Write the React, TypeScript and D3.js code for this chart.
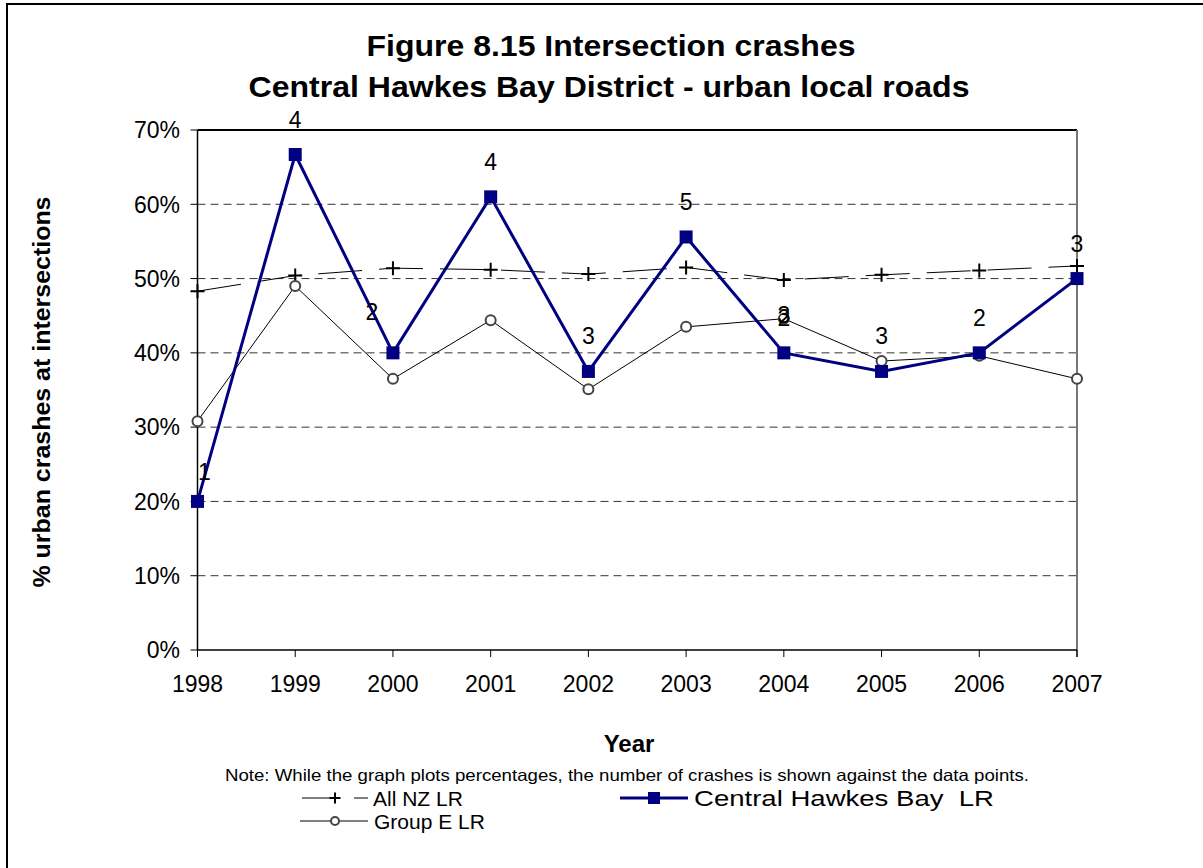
import React from "react";
import * as d3 from "d3";

// Chart data
const years = ["1998", "1999", "2000", "2001", "2002", "2003", "2004", "2005", "2006", "2007"];
const allNZ = [48.3, 50.4, 51.4, 51.2, 50.6, 51.5, 49.8, 50.5, 51.1, 51.7];
const centralHB = [20, 66.7, 40, 61, 37.5, 55.6, 40, 37.5, 40, 50];
const groupE = [30.8, 49.0, 36.5, 44.4, 35.1, 43.5, 44.6, 38.9, 39.6, 36.5];
const crashCounts = ["1", "4", "2", "4", "3", "5", "2", "3", "2", "3"];
const yTicks = [0, 10, 20, 30, 40, 50, 60, 70];

const FONT = "Liberation Sans, Arial, sans-serif";

// a few labels were nudged by hand in the original
const labelNudge: Record<number, [number, number]> = {
  0: [7, 6],
  2: [-21, -6],
};

const App = () => {
  const width = 1203;
  const height = 868;
  const left = 197.5;
  const right = 1077;
  const top = 130;
  const bottom = 650;

  const x = d3.scalePoint<string>().domain(years).range([left, right]);
  const y = d3.scaleLinear().domain([0, 70]).range([bottom, top]);

  const line = d3
    .line<number>()
    .x((_, i) => x(years[i]) as number)
    .y((d) => y(d));

  const plus = (cx: number, cy: number, s = 7) =>
    `M${cx - s},${cy}H${cx + s}M${cx},${cy - s}V${cy + s}`;

  return (
    <div style={{ position: "absolute", left: 0, top: 0 }}>
      <svg width={width} height={height} style={{ display: "block", background: "#fff" }} fontFamily={FONT}>
        {/* outer frame */}
        <rect x={7} y={4} width={width + 10} height={height + 10} fill="none" stroke="#000" strokeWidth={2} />

        {/* title */}
        <text x={611} y={56} textAnchor="middle" fontSize={30} fontWeight="bold" textLength={489} lengthAdjust="spacingAndGlyphs">
          Figure 8.15 Intersection crashes
        </text>
        <text x={609} y={97} textAnchor="middle" fontSize={30} fontWeight="bold" textLength={721} lengthAdjust="spacingAndGlyphs">
          Central Hawkes Bay District - urban local roads
        </text>

        {/* gridlines */}
        {yTicks
          .filter((t) => t > 0 && t < 70)
          .map((t) => (
            <line key={t} x1={left} x2={right} y1={y(t)} y2={y(t)} stroke="#333" strokeWidth={1} strokeDasharray="8 5" />
          ))}

        {/* plot frame */}
        <line x1={left} x2={right} y1={top} y2={top} stroke="#000" strokeWidth={2} />
        <line x1={right} x2={right} y1={top} y2={bottom + 7} stroke="#777" strokeWidth={2} />
        <line x1={left} x2={left} y1={top} y2={bottom} stroke="#000" strokeWidth={1.5} />
        <line x1={left} x2={right} y1={bottom} y2={bottom} stroke="#000" strokeWidth={1.5} />

        {/* y ticks */}
        {yTicks.map((t) => (
          <g key={t}>
            <line x1={left - 7} x2={left} y1={y(t)} y2={y(t)} stroke="#000" strokeWidth={1} />
            <text x={180} y={y(t)} dy="0.36em" textAnchor="end" fontSize={23}>
              {t}%
            </text>
          </g>
        ))}

        {/* x ticks */}
        {years.map((yr) => (
          <g key={yr}>
            <line x1={x(yr)} x2={x(yr)} y1={bottom} y2={bottom + 7} stroke="#000" strokeWidth={1} />
            <text x={x(yr)} y={692} textAnchor="middle" fontSize={23}>
              {yr}
            </text>
          </g>
        ))}

        {/* axis titles */}
        <text x={629} y={752} textAnchor="middle" fontSize={24} fontWeight="bold">
          Year
        </text>
        <text
          transform={`translate(50, 392) rotate(-90)`}
          textAnchor="middle"
          fontSize={23}
          fontWeight="bold"
          textLength={391}
          lengthAdjust="spacingAndGlyphs"
        >
          % urban crashes at intersections
        </text>
        <text x={627} y={781} textAnchor="middle" fontSize={16.5} textLength={804} lengthAdjust="spacingAndGlyphs">
          Note: While the graph plots percentages, the number of crashes is shown against the data points.
        </text>

        {/* All NZ LR */}
        <path d={line(allNZ) ?? ""} fill="none" stroke="#000" strokeWidth={1} strokeDasharray="44 17" />
        {allNZ.map((v, i) => (
          <path key={i} d={plus(x(years[i]) as number, y(v))} stroke="#000" strokeWidth={2} />
        ))}

        {/* Group E LR */}
        <path d={line(groupE) ?? ""} fill="none" stroke="#000" strokeWidth={1} />
        {groupE.map((v, i) => (
          <circle key={i} cx={x(years[i])} cy={y(v)} r={5} fill="#fff" stroke="#444" strokeWidth={2} />
        ))}

        {/* Central Hawkes Bay LR */}
        <path d={line(centralHB) ?? ""} fill="none" stroke="#000080" strokeWidth={3} />
        {centralHB.map((v, i) => (
          <rect key={i} x={(x(years[i]) as number) - 6.5} y={y(v) - 6.5} width={13} height={13} fill="#000080" />
        ))}

        {/* crash counts */}
        {centralHB.map((v, i) => {
          const [dx, dy] = labelNudge[i] ?? [0, 0];
          return (
            <text key={i} x={(x(years[i]) as number) + dx} y={y(v) - 27 + dy} textAnchor="middle" fontSize={23}>
              {crashCounts[i]}
            </text>
          );
        })}
        {/* overlapping label at 2004 */}
        <text x={x("2004")} y={y(centralHB[6]) - 30} textAnchor="middle" fontSize={23}>
          3
        </text>

        {/* legend */}
        <g fontSize={21}>
          <line x1={302} x2={330} y1={798} y2={798} stroke="#000" strokeWidth={1} />
          <line x1={354} x2={368} y1={798} y2={798} stroke="#000" strokeWidth={1} />
          <path d={plus(335, 798, 5.5)} stroke="#000" strokeWidth={2} />
          <text x={373} y={798} dy="0.36em">All NZ LR</text>

          <line x1={620} x2={688} y1={798} y2={798} stroke="#000080" strokeWidth={3} />
          <rect x={648} y={792} width={12} height={12} fill="#000080" />
          <text x={694} y={798} dy="0.36em" fontSize={22} textLength={300} lengthAdjust="spacingAndGlyphs" style={{ whiteSpace: "pre" }}>
            {"Central Hawkes Bay  LR"}
          </text>

          <line x1={300} x2={368} y1={821} y2={821} stroke="#000" strokeWidth={1} />
          <circle cx={335} cy={821} r={4} fill="#fff" stroke="#444" strokeWidth={2} />
          <text x={374} y={821} dy="0.36em">Group E LR</text>
        </g>
      </svg>
    </div>
  );
};

export default App;
